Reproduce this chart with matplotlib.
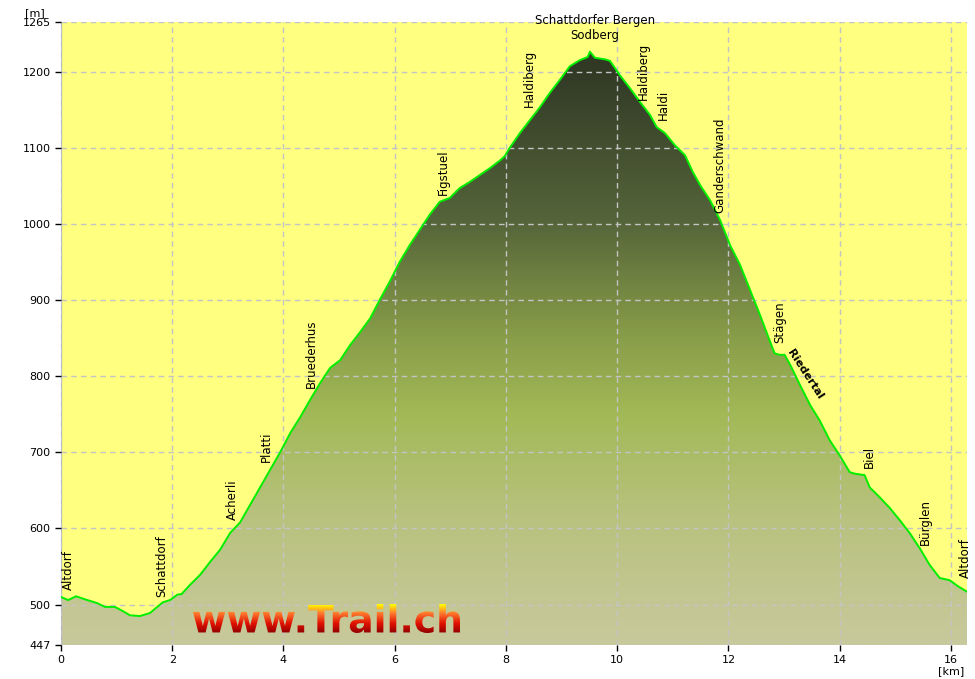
import numpy as np
import matplotlib
matplotlib.use('Agg')
import matplotlib.pyplot as plt
from matplotlib.colors import LinearSegmentedColormap
from matplotlib.textpath import TextPath
from matplotlib.font_manager import FontProperties
from matplotlib.patches import PathPatch
from matplotlib.transforms import Affine2D

# profile: distance [km], elevation [m]
dist = [0.00, 0.13, 0.27, 0.43, 0.65, 0.79, 0.97, 1.10, 1.24, 1.42, 1.60, 1.73, 1.83, 1.96,
        2.09, 2.17, 2.32, 2.50, 2.68, 2.86, 3.04, 3.22, 3.40, 3.58, 3.76, 3.94, 4.12, 4.30,
        4.48, 4.66, 4.84, 5.02, 5.20, 5.38, 5.56, 5.73, 5.91, 6.09, 6.27, 6.45, 6.63, 6.81,
        6.99, 7.17, 7.35, 7.53, 7.71, 7.89, 7.98, 8.07, 8.25, 8.43, 8.61, 8.79, 8.97, 9.15,
        9.33, 9.47, 9.51, 9.60, 9.78, 9.87, 10.05, 10.23, 10.41, 10.59, 10.71, 10.86, 11.04,
        11.22, 11.36, 11.49, 11.67, 11.85, 12.03, 12.21, 12.39, 12.57, 12.74, 12.83, 12.92,
        13.01, 13.11, 13.29, 13.47, 13.64, 13.82, 14.00, 14.18, 14.27, 14.45, 14.54, 14.72,
        14.90, 15.08, 15.26, 15.44, 15.62, 15.80, 15.98, 16.13, 16.29]
elev = [510, 506, 511, 507, 502, 497, 497, 492, 486, 485, 489, 497, 503, 506,
        513, 514, 526, 539, 556, 572, 594, 608, 631, 654, 677, 700, 725, 746,
        769, 791, 811, 821, 841, 858, 876, 900, 924, 950, 972, 992, 1012, 1029,
        1034, 1047, 1055, 1064, 1073, 1083, 1089, 1100, 1119, 1136, 1153, 1172, 1189, 1207,
        1215, 1219, 1226, 1218, 1216, 1214, 1195, 1178, 1160, 1143, 1127, 1119, 1103,
        1090, 1068, 1051, 1031, 1005, 972, 946, 913, 880, 847, 830, 828,
        828, 815, 788, 762, 742, 716, 696, 674, 672, 670, 654, 641,
        627, 611, 594, 574, 552, 535, 532, 524, 517]

# waypoint labels: name, km, elevation of label foot
wp_names = ['Altdorf', 'Schattdorf', 'Acherli', 'Platti', 'Bruederhus', 'Figstuel',
            'Haldiberg', 'Haldiberg', 'Haldi', 'Ganderschwand', 'Stägen', 'Biel',
            'Bürglen', 'Altdorf']
wp_km = [0.13, 1.82, 3.09, 3.70, 4.51, 6.87, 8.43, 10.48, 10.83, 11.85, 12.93, 14.53, 15.54, 16.27]
wp_m = [519, 510, 611, 687, 784, 1038, 1153, 1163, 1136, 1014, 843, 679, 578, 535]

xticks = [0, 2, 4, 6, 8, 10, 12, 14, 16]
yticks = [447, 500, 600, 700, 800, 900, 1000, 1100, 1200, 1265]
ymin, ymax = 447, 1265
xmax = 16.29

fig = plt.figure(figsize=(9.75, 6.79), dpi=100)
ax = fig.add_axes([61/975, 34/679, 906/975, 623/679])
ax.set_facecolor('#ffff80')
ax.set_xlim(0, xmax)
ax.set_ylim(ymin, ymax)

# gradient under the profile
cmap = LinearSegmentedColormap.from_list('prof', [
    (0.0, '#c8c99c'), (0.2, '#b9c27f'), (0.37, '#a2b957'), (0.5, '#879c48'),
    (0.68, '#55653a'), (0.92, '#323a26'), (1.0, '#303824')])
grad = np.linspace(0, 1, 256).reshape(-1, 1)
im = ax.imshow(grad, cmap=cmap, origin='lower', aspect='auto',
               extent=[0, xmax, ymin, ymax], zorder=1)
poly = ax.fill_between(dist, elev, ymin, color='none', lw=0)
im.set_clip_path(poly.get_paths()[0], transform=ax.transData)

ax.grid(True, color='#c4c4c4', linestyle=(0, (4, 3)), lw=1, zorder=2)
ax.set_axisbelow(False)
ax.plot(dist, elev, color='#00ee00', lw=1.4, zorder=3)

ax.set_xticks(xticks)
ax.set_yticks(yticks)
ax.tick_params(labelsize=8, length=4, color='black', width=1)
for s in ['top', 'right', 'bottom']:
    ax.spines[s].set_visible(False)
ax.spines['left'].set_color('#b4b4c8')
ax.text(-0.3, 1270, '[m]', ha='right', va='bottom', fontsize=8)
ax.text(16.0, ymin - 28, '[km]', ha='center', va='top', fontsize=8)

for name, xk, ym in zip(wp_names, wp_km, wp_m):
    ax.text(xk, ym, name, rotation=90, ha='center', va='bottom', fontsize=8.5, zorder=4)
ax.text(13.1, 834, 'Riedertal', rotation=-57, rotation_mode='anchor',
        ha='left', va='center', fontsize=8, fontweight='bold', zorder=4)
ax.text(9.6, 1257, 'Schattdorfer Bergen\nSodberg', ha='center', va='center',
        fontsize=8.5, linespacing=1.25, zorder=4)

# watermark with red-yellow gradient, drawn in pixel coordinates
wax = fig.add_axes([0, 0, 1, 1])
wax.set_xlim(0, 975)
wax.set_ylim(679, 0)
wax.axis('off')
tp = TextPath((0, 0), 'www.Trail.ch', size=40, prop=FontProperties(family='DejaVu Sans', weight='bold'))
bb = tp.get_extents()
sc = 267 / bb.width
tr = Affine2D().translate(-bb.x0, -bb.y0).scale(sc, -sc).translate(193, 633) + wax.transData
patch = PathPatch(tp, transform=tr, facecolor='none', edgecolor='none')
wax.add_patch(patch)
wcm = LinearSegmentedColormap.from_list('wm', [(0, '#ffff00'), (0.3, '#ff7a30'),
                                               (0.65, '#e01000'), (1, '#8a0000')])
wim = wax.imshow(np.linspace(0, 1, 64).reshape(-1, 1), cmap=wcm, aspect='auto',
                 extent=[190, 470, 634, 604])
wim.set_clip_path(patch)

fig.savefig('out.png', dpi=100)
